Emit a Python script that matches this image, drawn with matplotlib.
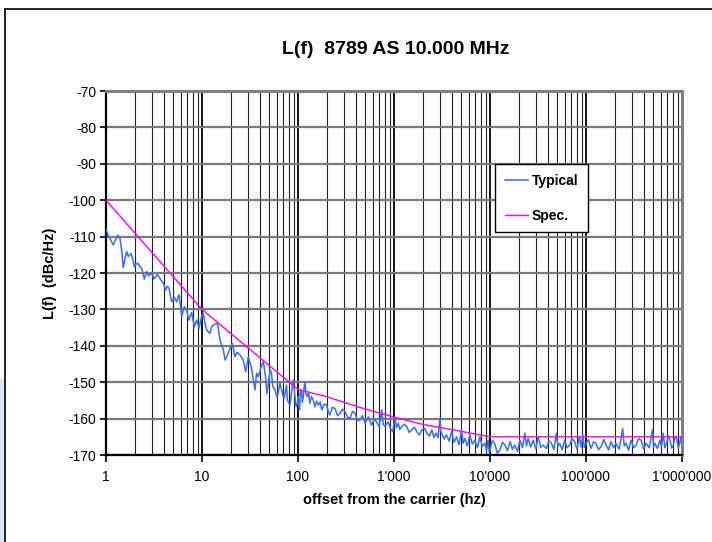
# phase noise plot L(f) 8789 AS 10.000 MHz

import matplotlib
matplotlib.use("Agg")
import matplotlib.pyplot as plt
from matplotlib.lines import Line2D
from matplotlib.patches import Rectangle
from matplotlib.ticker import FixedLocator, FixedFormatter, NullFormatter

plt.rcParams['font.family'] = ['Liberation Sans', 'DejaVu Sans']
plt.rcParams['axes.unicode_minus'] = False

# Typical (offset Hz, dBc/Hz)
typ_f = [1.00, 1.05, 1.10, 1.19, 1.26, 1.32, 1.40, 1.46, 1.51, 1.58, 1.64, 1.71, 1.82, 1.90, 1.97,
         2.05, 2.14, 2.25, 2.35, 2.51, 2.65, 2.76, 2.87, 3.03, 3.15, 3.29, 3.42, 3.56, 3.75, 3.95,
         4.18, 4.35, 4.53, 4.83, 5.15, 5.45, 5.77, 5.95, 6.15, 6.54, 6.92, 7.30, 7.80, 8.32, 8.80,
         9.30, 9.90, 10.3, 10.7, 11.2, 12.1, 12.6, 13.1, 14.5, 15.4, 16.7, 17.4, 18.1, 19.6, 20.7,
         22.0, 23.2, 24.8, 26.9, 28.5, 30.4, 32.9, 34.0, 35.7, 37.0, 38.7, 41.0, 43.6, 46.1, 47.3,
         49.1, 51.2, 53.0, 54.6, 57.5, 60.1, 61.4, 65.0, 66.2, 70.5, 71.8, 76.0, 77.5, 82.5, 86.0,
         89.4, 93.0, 95.5, 98.9,
         100.5, 102, 104, 105.5, 107, 109, 111, 113, 115, 118,
         121, 125, 129, 133, 138, 144, 150, 156, 163, 170,
         177, 188, 199, 207, 215, 228, 243, 258, 274, 290,
         309, 328, 348, 370, 393, 415, 442, 470, 500, 540,
         585, 620, 660, 700, 745, 770, 805, 870, 920, 970,
         1025, 1060, 1110, 1150, 1200, 1280, 1360, 1440, 1530, 1630,
         1730, 1840, 1950, 2070, 2200, 2340, 2480, 2600, 2740, 2870,
         3010, 3070, 3130, 3330, 3530, 3750, 3980, 4220, 4480, 4750,
         5050, 5250, 5470, 5800, 6170, 6550, 6960, 7400, 7840, 8300,
         8830, 9200, 9550, 9800, 10100, 10600, 11200, 11900, 12700, 13500,
         14300, 15200, 16200, 17100, 18100, 19300, 20500, 21800, 23100, 24000,
         25000, 26500, 28200, 30000, 31800, 33800, 35800, 38700, 41000, 43600,
         46300, 49100, 51000, 53200, 56500, 59900, 63500, 67500, 71500, 76000,
         80500, 85600, 89000, 92700, 96000, 100000, 106000, 113000, 120000, 127000,
         135000, 144000, 153000, 162000, 172000, 182000, 193000, 205000, 222000, 241000,
         250000, 262000, 278000, 295000, 313000, 333000, 353000, 375000, 398000, 422000,
         455000, 493000, 505000, 521000, 555000, 588000, 612000, 637000, 662000, 690000,
         720000, 750000, 780000, 812000, 845000, 880000, 915000, 950000, 975000, 1000000]
typ_db = [-108.0, -109.5, -110.5, -112.3, -110.8, -109.6, -110.5, -114.0, -118.5, -116.0, -114.1, -115.5, -114.6, -116.2, -118.3,
          -117.6, -117.3, -118.2, -118.7, -121.7, -119.6, -120.8, -120.5, -120.1, -121.6, -121.2, -120.4, -121.0, -122.0, -122.8,
          -124.7, -123.6, -124.2, -127.9, -126.7, -127.9, -126.0, -128.5, -132.0, -129.3, -130.2, -132.9, -130.9, -134.7, -132.9,
          -135.2, -132.0, -131.1, -133.5, -135.7, -136.6, -134.8, -134.3, -133.8, -138.4, -141.2, -143.9, -143.0, -140.7, -139.3,
          -143.0, -141.8, -142.5, -143.9, -147.1, -143.0, -146.2, -148.9, -152.1, -147.5, -148.5, -146.0, -144.4, -148.9, -153.1,
          -150.5, -146.6, -147.6, -151.2, -152.1, -154.0, -153.5, -150.3, -151.2, -154.0, -154.4, -150.8, -154.9, -156.3, -152.5,
          -149.4, -154.0, -156.7, -155.8,
          -154.0, -156.5, -157.5, -153.0, -152.1, -152.6, -155.5, -154.4, -152.0, -149.9,
          -153.2, -154.0, -152.8, -155.8, -153.9, -154.9, -156.8, -155.2, -156.3, -155.4,
          -157.6, -156.0, -156.3, -158.2, -159.0, -156.9, -157.2, -159.2, -158.5, -157.4,
          -158.1, -159.6, -159.9, -158.0, -158.5, -160.6, -160.4, -159.2, -161.3, -159.5,
          -161.8, -160.2, -160.9, -162.3, -157.6, -161.5, -162.2, -160.9, -162.8, -163.6,
          -159.9, -162.5, -161.3, -163.0, -162.2, -161.5, -162.2, -163.8, -163.1, -162.4,
          -163.6, -164.5, -163.1, -162.6, -164.0, -164.8, -163.1, -165.2, -164.0, -165.3,
          -159.9, -163.5, -164.0, -165.6, -164.5, -166.2, -163.6, -166.5, -165.0, -167.2,
          -163.1, -166.8, -165.4, -167.5, -164.5, -167.0, -165.9, -168.0, -165.0, -167.6,
          -166.8, -168.8, -165.9, -169.2, -168.2, -166.0, -166.8, -169.5, -168.6, -166.5,
          -167.3, -168.8, -166.3, -168.4, -167.3, -169.0, -165.9, -168.0, -164.0, -167.5,
          -165.4, -167.8, -165.9, -168.3, -165.0, -167.9, -167.3, -168.2, -166.0, -166.8,
          -168.5, -164.0, -167.6, -166.8, -168.6, -165.9, -168.0, -167.3, -165.5, -166.3,
          -168.4, -165.0, -167.8, -164.5, -167.9, -166.8, -165.8, -168.2, -166.4, -166.8,
          -168.5, -167.7, -165.7, -167.3, -168.6, -166.3, -168.0, -166.8, -168.4, -162.7,
          -167.5, -166.8, -168.7, -165.9, -168.0, -167.3, -165.5, -165.9, -168.3, -166.8,
          -168.0, -163.1, -167.8, -166.8, -168.2, -165.9, -167.6, -164.0, -168.0, -166.8,
          -164.8, -165.9, -168.1, -167.3, -165.0, -165.4, -168.0, -166.8, -164.9, -165.9]

# Spec. line
spec_f = [1, 10, 100, 200, 450, 1000, 2000, 5000, 10000, 1000000]
spec_db = [-100, -130, -152, -154, -157, -159.6, -161.6, -163.5, -165, -165]

x_ticks = [1, 10, 100, 1000, 10000, 100000, 1000000]
x_labels = ["1", "10", "100", "1'000", "10'000", "100'000", "1'000'000"]
y_ticks = list(range(-170, -60, 10))

W, H = 712, 542
fig = plt.figure(figsize=(W / 100, H / 100), dpi=100)
fig.patch.set_facecolor('white')

# outer chart border (cut at right/bottom) and light strip at left
fig.add_artist(Line2D([5 / W, 5 / W], [0, 1 - 9 / H], transform=fig.transFigure, color='black', lw=1.2))
fig.add_artist(Line2D([5 / W, 1], [1 - 9 / H, 1 - 9 / H], transform=fig.transFigure, color='black', lw=1.2))
fig.add_artist(Rectangle((0, 0), 4 / W, 0.3, transform=fig.transFigure, color='#dfe6f0', lw=0))

ax = fig.add_axes([106 / W, 1 - 455 / H, 576 / W, 364 / H])
ax.set_xscale('log')
ax.set_xlim(1, 1e6)
ax.set_ylim(-170, -70)

ax.plot(typ_f, typ_db, color='#3a6cf4', lw=1.1, label='Typical', zorder=3)
ax.plot(spec_f, spec_db, color='#ff00ff', lw=1.0, label='Spec.', zorder=4)

# grid
ax.set_yticks(y_ticks)
ax.xaxis.set_major_locator(FixedLocator(x_ticks))
ax.xaxis.set_major_formatter(FixedFormatter(x_labels))
ax.xaxis.set_minor_formatter(NullFormatter())
ax.grid(axis='y', which='major', color='#7a7a7a', lw=1.6)
ax.grid(axis='x', which='major', color='black', lw=1.3)
ax.grid(axis='x', which='minor', color='#202020', lw=0.8)
ax.set_axisbelow(True)

ax.tick_params(axis='y', which='major', direction='out', length=4, width=1.2, labelsize=10, pad=3)
ax.tick_params(axis='x', which='major', direction='out', length=5, width=1.2, labelsize=10, pad=6)
ax.tick_params(axis='x', which='minor', length=0)

for s in ['left', 'bottom']:
    ax.spines[s].set_color('black')
    ax.spines[s].set_linewidth(1.6)
for s in ['top', 'right']:
    ax.spines[s].set_color('#808080')
    ax.spines[s].set_linewidth(2.2)

fig.text(396 / W, 1 - 50 / H, "L(f)  8789 AS 10.000 MHz", ha='center', va='center',
         fontsize=14, fontweight='bold')
fig.text(394 / W, 1 - 500 / H, "offset from the carrier (hz)", ha='center', va='center',
         fontsize=10.5, fontweight='bold')
fig.text(50 / W, 1 - 273 / H, "L(f)  (dBc/Hz)", ha='center', va='center', rotation=90,
         fontsize=10.5, fontweight='bold')

leg = ax.legend(loc='upper left', bbox_to_anchor=(495 / W, 1 - 164 / H), bbox_transform=fig.transFigure,
                fancybox=False, framealpha=1, edgecolor='black', fontsize=10, handlelength=1.65,
                handletextpad=0.3, labelspacing=1.5, borderpad=0.7, borderaxespad=0)
leg.get_frame().set_linewidth(1.0)
for t in leg.get_texts():
    t.set_fontweight('bold')

fig.savefig('out.png', dpi=100)
